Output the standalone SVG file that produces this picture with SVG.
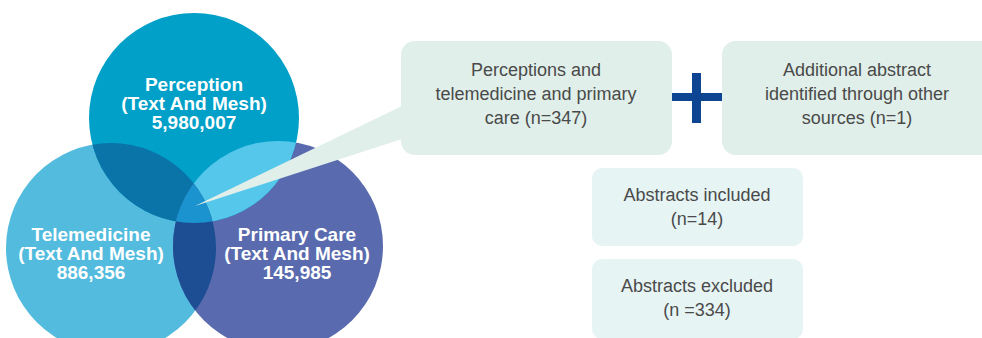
<svg xmlns="http://www.w3.org/2000/svg" width="982" height="338" viewBox="0 0 982 338">
<style>
.vt{font-family:"Liberation Sans",Arial,sans-serif;font-weight:bold;font-size:19px;fill:#fff;text-anchor:middle}
.bt{font-family:"Liberation Sans",Arial,sans-serif;font-size:18px;fill:#4a4a4a;text-anchor:middle}
.g{fill:#e0efe9}
.c{fill:#e6f4f4}
</style>
<defs>
<clipPath id="cP"><circle cx="194" cy="118" r="105"/></clipPath>
<clipPath id="cT"><circle cx="111" cy="248" r="105"/></clipPath>
<clipPath id="cC"><circle cx="278" cy="246" r="105"/></clipPath>
</defs>
<rect width="982" height="338" fill="#fff"/>
<g id="venn">
<g id="telemedicine"><circle cx="111" cy="248" r="105" fill="#53bbdd"/></g>
<g id="primary-care"><circle cx="278" cy="246" r="105" fill="#596bae"/></g>
<g id="perception"><circle cx="194" cy="118" r="105" fill="#00a0c8"/></g>
<circle cx="111" cy="248" r="105" fill="#0a74a8" clip-path="url(#cP)"/>
<circle cx="278" cy="246" r="105" fill="#55c7eb" clip-path="url(#cP)"/>
<g clip-path="url(#cT)"><circle cx="278" cy="246" r="105" fill="#1d4e94"/></g>
<g clip-path="url(#cT)"><g clip-path="url(#cP)"><circle cx="278" cy="246" r="105" fill="#1b93ce"/></g></g>
</g>
<g id="connectors">
<polygon class="g" points="195,206 402,106 402,139"/>
</g>
<g id="venn-labels">
<text class="vt" x="194" y="91">Perception</text>
<text class="vt" x="194" y="110">(Text And Mesh)</text>
<text class="vt" x="194" y="129">5,980,007</text>
<text class="vt" x="91" y="241">Telemedicine</text>
<text class="vt" x="91" y="260">(Text And Mesh)</text>
<text class="vt" x="91" y="279">886,356</text>
<text class="vt" x="297" y="241">Primary Care</text>
<text class="vt" x="297" y="260">(Text And Mesh)</text>
<text class="vt" x="297" y="279">145,985</text>
</g>
<g id="box-perceptions">
<rect class="g" x="401" y="41" width="271" height="114" rx="14"/>
<text class="bt" x="536" y="76">Perceptions and</text>
<text class="bt" x="536" y="100">telemedicine and primary</text>
<text class="bt" x="536" y="124">care (n=347)</text>
</g>
<g id="plus">
<rect x="692" y="73" width="9" height="50" fill="#0d4592"/>
<rect x="672" y="93" width="50" height="8" fill="#0d4592"/>
</g>
<g id="box-additional">
<rect class="g" x="722" y="41" width="280" height="114" rx="14"/>
<text class="bt" x="857" y="76">Additional abstract</text>
<text class="bt" x="857" y="100">identified through other</text>
<text class="bt" x="857" y="124">sources (n=1)</text>
</g>
<g id="box-included">
<rect class="c" x="592" y="168" width="211" height="78" rx="10"/>
<text class="bt" x="697" y="201">Abstracts included</text>
<text class="bt" x="697" y="225">(n=14)</text>
</g>
<g id="box-excluded">
<rect class="c" x="592" y="259" width="211" height="80" rx="10"/>
<text class="bt" x="697" y="292">Abstracts excluded</text>
<text class="bt" x="697" y="316">(n =334)</text>
</g>
</svg>
